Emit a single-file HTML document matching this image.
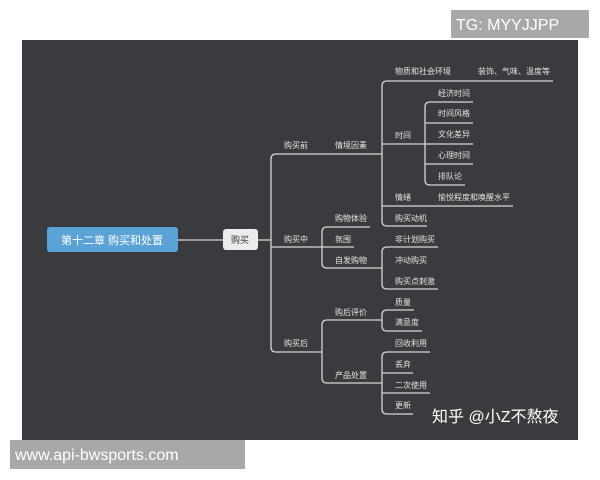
<!DOCTYPE html>
<html><head><meta charset="utf-8"><style>
html,body{margin:0;padding:0;background:#fff;width:600px;height:480px;overflow:hidden}
svg{display:block}
text{font-family:"Liberation Sans","Noto Sans CJK SC",sans-serif}
</style></head><body>
<svg width="600" height="480" viewBox="0 0 600 480" xmlns="http://www.w3.org/2000/svg">
<rect x="0" y="0" width="600" height="480" fill="#fff"/>
<rect x="22" y="40" width="556" height="400" fill="#3a3b3f"/>
<rect x="451" y="10" width="138" height="28" fill="#a8a8a8"/>
<text x="456" y="30" font-size="16" fill="#fff">TG: MYYJJPP</text>
<rect x="10" y="440" width="235" height="29" fill="#a8a8a8"/>
<text x="15" y="460" font-size="16" fill="#fff">www.api-bwsports.com</text>

<g stroke="#d6d6d6" stroke-width="1.3" fill="none">
<line x1="178" y1="240" x2="223" y2="240"/>
<line x1="258" y1="240" x2="271" y2="240"/>
<path d="M276 154 Q271 154 271 159 V347 Q271 352 276 352"/>
<line x1="276" y1="154" x2="382" y2="154"/>
<line x1="271" y1="247" x2="322" y2="247"/>
<line x1="276" y1="352" x2="322" y2="352"/>
<path d="M387 81 Q382 81 382 86 V221 Q382 226 387 226"/>
<line x1="387" y1="81" x2="553" y2="81"/>
<line x1="382" y1="144" x2="473" y2="144"/>
<line x1="382" y1="206" x2="513" y2="206"/>
<line x1="387" y1="226" x2="427" y2="226"/>
<path d="M430 102 Q425 102 425 107 V180 Q425 185 430 185"/>
<line x1="430" y1="102" x2="473" y2="102"/>
<line x1="425" y1="123" x2="473" y2="123"/>
<line x1="425" y1="164" x2="473" y2="164"/>
<line x1="430" y1="185" x2="465" y2="185"/>
<path d="M327 227 Q322 227 322 232 V263 Q322 268 327 268"/>
<line x1="327" y1="227" x2="370" y2="227"/>
<line x1="322" y1="247" x2="354" y2="247"/>
<line x1="327" y1="268" x2="382" y2="268"/>
<path d="M387 247 Q382 247 382 252 V284 Q382 289 387 289"/>
<line x1="387" y1="247" x2="438" y2="247"/>
<line x1="387" y1="289" x2="438" y2="289"/>
<path d="M327 320 Q322 320 322 325 V378 Q322 383 327 383"/>
<line x1="327" y1="320" x2="382" y2="320"/>
<line x1="327" y1="383" x2="382" y2="383"/>
<path d="M387 310 Q382 310 382 315 V326 Q382 331 387 331"/>
<line x1="387" y1="310" x2="414" y2="310"/>
<line x1="387" y1="331" x2="422" y2="331"/>
<path d="M387 352 Q382 352 382 357 V409 Q382 414 387 414"/>
<line x1="387" y1="352" x2="430" y2="352"/>
<line x1="382" y1="373" x2="413" y2="373"/>
<line x1="382" y1="393" x2="430" y2="393"/>
<line x1="387" y1="414" x2="413" y2="414"/>
</g>

<rect x="47" y="227" width="131" height="25" rx="3" fill="#5ba3d6"/>
<text x="112" y="244" font-size="11" fill="#fff" text-anchor="middle">第十二章 购买和处置</text>
<rect x="223" y="229" width="35" height="21" rx="3" fill="#ececec"/>
<text x="240" y="243" font-size="9" fill="#333" text-anchor="middle">购买</text>

<g font-size="8" fill="#e4e4e4">
<text x="284" y="148">购买前</text>
<text x="284" y="242">购买中</text>
<text x="284" y="346">购买后</text>
<text x="335" y="148">情境因素</text>
<text x="395" y="74">物质和社会环境</text>
<text x="478" y="74">装饰、气味、温度等</text>
<text x="395" y="138">时间</text>
<text x="438" y="96">经济时间</text>
<text x="438" y="116">时间风格</text>
<text x="438" y="137">文化差异</text>
<text x="438" y="158">心理时间</text>
<text x="438" y="179">排队论</text>
<text x="395" y="200">情绪</text>
<text x="438" y="200">愉悦程度和唤醒水平</text>
<text x="395" y="221">购买动机</text>
<text x="335" y="221">购物体验</text>
<text x="335" y="242">氛围</text>
<text x="335" y="263">自发购物</text>
<text x="395" y="242">非计划购买</text>
<text x="395" y="263">冲动购买</text>
<text x="395" y="284">购买点刺激</text>
<text x="335" y="315">购后评价</text>
<text x="395" y="305">质量</text>
<text x="395" y="325">满意度</text>
<text x="335" y="378">产品处置</text>
<text x="395" y="346">回收利用</text>
<text x="395" y="367">丢弃</text>
<text x="395" y="388">二次使用</text>
<text x="395" y="408">更新</text>
</g>
<text x="432" y="422" font-size="16" fill="#fff">知乎 @小Z不熬夜</text>
</svg>
</body></html>
